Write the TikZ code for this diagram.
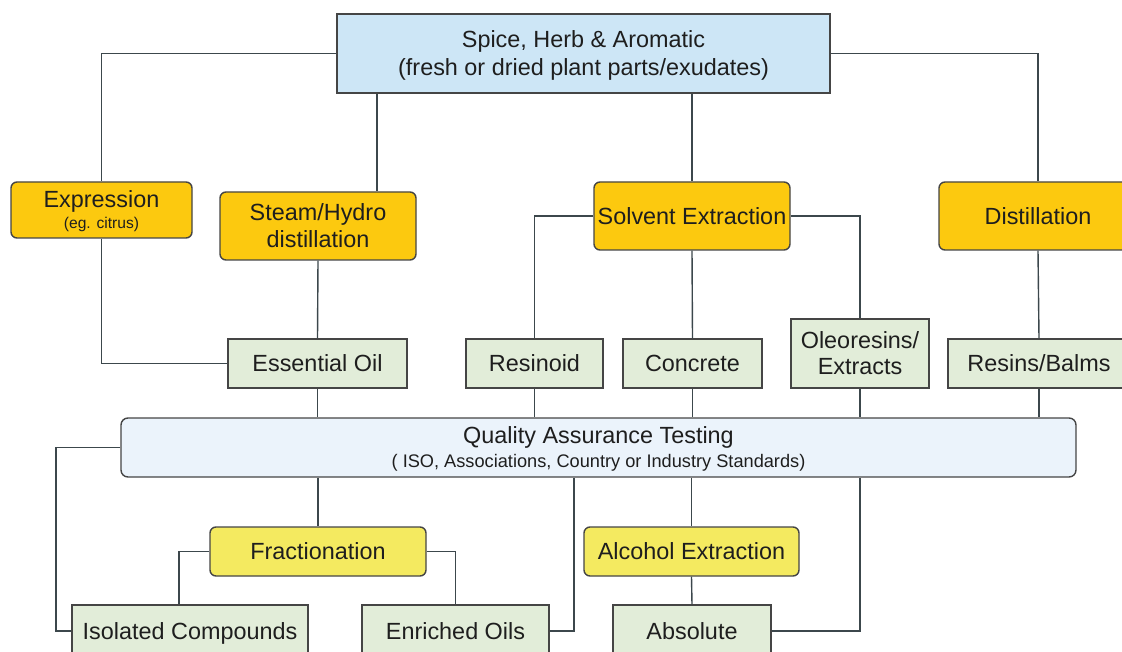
\documentclass[tikz,border=0pt]{standalone}
\usepackage{fontspec}
\setmainfont{Liberation Sans}

\definecolor{srcblue}{HTML}{CDE6F6}
\definecolor{methodorange}{HTML}{FCC90F}
\definecolor{productgreen}{HTML}{E2EDD9}
\definecolor{qablue}{HTML}{EBF3FB}
\definecolor{stepyellow}{HTML}{F4EA60}
\definecolor{boxline}{HTML}{454545}
\definecolor{linkgray}{HTML}{3C474C}
\definecolor{txt}{HTML}{1E1E1E}

\tikzset{
  box/.style={draw=boxline, line width=1.4pt, inner sep=0pt, align=center,
    text=txt, text depth=0pt, font=\fontsize{23.4}{28}\selectfont},
  sz/.style 2 args={minimum width=#1pt, minimum height=#2pt},
  source/.style={box, fill=srcblue},
  method/.style={box, fill=methodorange, rounded corners=6pt},
  product/.style={box, fill=productgreen},
  qabox/.style={box, fill=qablue, rounded corners=7pt},
  refine/.style={box, fill=stepyellow, rounded corners=6pt},
  link/.style={draw=linkgray, line width=1.4pt},
}
\newcommand{\subsz}{\fontsize{18.2}{21}\selectfont}
\newcommand{\tinysz}{\fontsize{15.6}{18}\selectfont}

\begin{document}
\begin{tikzpicture}[x=1pt, y=-1pt]
  \path[use as bounding box, clip] (0,0) rectangle (1122,652);
  % raw material
  \node (src) [source, sz={493}{79}] at (583.5,53.5)
        {Spice, Herb \& Aromatic\\(fresh or dried plant parts/exudates)};
  % extraction methods
  \node (expr)  [method, sz={181}{56}] at (101.5,210)
        {Expression\\[-7pt]{\tinysz (eg. citrus)}};
  \node (steam) [method, sz={196}{68}] at (318,226) {Steam/Hydro\\[-1pt]distillation};
  \node (solv)  [method, sz={196}{68}] at (692,216) {Solvent Extraction};
  \node (dist)  [method, sz={198}{68}] at (1038,216) {Distillation};
  % products
  \node (eoil)     [product, sz={179}{49}] at (317.5,363.5) {Essential Oil};
  \node (resinoid) [product, sz={137}{49}] at (534.5,363.5) {Resinoid};
  \node (concrete) [product, sz={139}{49}] at (692.5,363.5) {Concrete};
  \node (oleo)     [product, sz={138}{69}] at (860,353.5) {Oleoresins/\\[-2pt]Extracts};
  \node (resins)   [product, sz={182}{49}] at (1039,363.5) {Resins/Balms};
  % testing
  \node (qa) [qabox, sz={955}{59}] at (598.5,447.5)
        {Quality Assurance Testing\\[-4pt]{\subsz ( ISO, Associations, Country or Industry Standards)}};
  % further processing
  \node (frac) [refine, sz={216}{49}] at (318,551.5) {Fractionation};
  \node (alc)  [refine, sz={215}{49}] at (691.5,551.5) {Alcohol Extraction};
  \node (iso)  [product, sz={236}{52}] at (190,631) {Isolated Compounds};
  \node (enr)  [product, sz={187}{52}] at (455.5,631) {Enriched Oils};
  \node (abs)  [product, sz={158}{52}] at (692,631) {Absolute};

  \coordinate (jsteam) at (377,0);
  \coordinate (jqa)    at (56,0);
  \coordinate (jfrac)  at (179,0);
  \coordinate (jenr)   at (574,0);

  % source to methods
  \draw[link] (src.west) -| (expr.north);
  \draw[link] (src.south -| jsteam) -- (steam.north -| jsteam);
  \draw[link] (solv.north |- src.south) -- (solv.north);
  \draw[link] (src.east) -| (dist.north);
  % methods to products
  \draw[link] (expr.south) |- (eoil.west);
  \draw[link] (steam.south) -- (eoil.north);
  \draw[link] (solv.west) -| (resinoid.north);
  \draw[link] (solv.south) -- (concrete.north);
  \draw[link] (solv.east) -| (oleo.north);
  \draw[link] (dist.south) -- (resins.north);
  % products to testing
  \foreach \p in {eoil, resinoid, concrete, oleo, resins}
    \draw[link] (\p.south) -- (qa.north -| \p.south);
  % testing onwards
  \draw[link] (qa.west) -| (jqa |- iso.west) -- (iso.west);
  \draw[link] (qa.south -| frac.north) -- (frac.north);
  \draw[link] (frac.west) -| (iso.north -| jfrac);
  \draw[link] (frac.east) -| (enr.north);
  \draw[link] (enr.east) -| (qa.south -| jenr);
  \draw[link] (qa.south -| alc.north) -- (alc.north);
  \draw[link] (alc.south) -- (abs.north);
  \draw[link] (abs.east) -| (qa.south -| oleo.south);
\end{tikzpicture}
\end{document}
